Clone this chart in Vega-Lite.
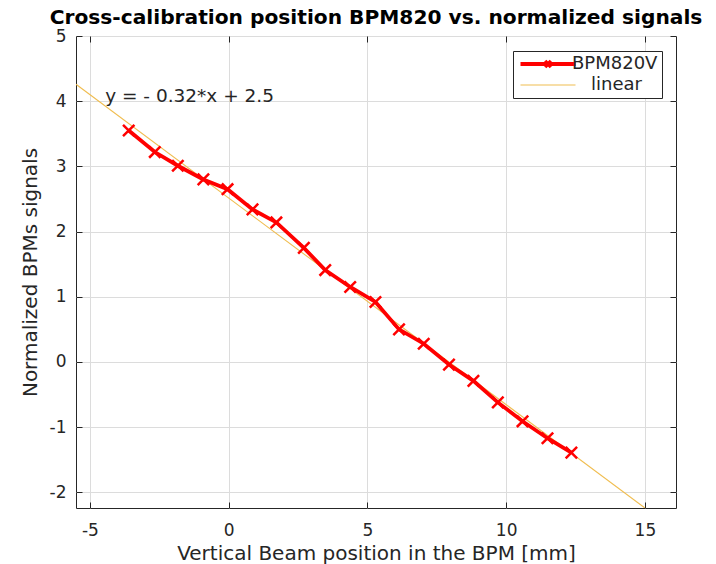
{
  "$schema": "https://vega.github.io/schema/vega-lite/v6.json",
  "width": 600,
  "height": 472,
  "autosize": {"type": "none"},
  "padding": {"left": 76, "top": 36, "right": 40, "bottom": 56},
  "background": "white",
  "config": {
    "font": "DejaVu Sans",
    "view": {"stroke": "#262626", "strokeWidth": 1},
    "axis": {
      "domain": false,
      "gridColor": "#dcdcdc",
      "gridWidth": 1,
      "tickColor": "#262626",
      "tickSize": -6,
      "tickWidth": 1,
      "labelColor": "#262626",
      "labelFontSize": 17,
      "titleColor": "#262626",
      "titleFontSize": 20,
      "titleFontWeight": "normal"
    }
  },
  "title": {
    "text": "Cross-calibration position BPM820 vs. normalized signals",
    "fontSize": 20.2,
    "fontWeight": "bold",
    "color": "#000000",
    "anchor": "middle",
    "offset": -1
  },
  "datasets": {
    "meas": [
      {"x": -3.60, "y": 3.55, "series": "BPM820V"},
      {"x": -2.66, "y": 3.22, "series": "BPM820V"},
      {"x": -1.83, "y": 3.01, "series": "BPM820V"},
      {"x": -0.91, "y": 2.80, "series": "BPM820V"},
      {"x": -0.04, "y": 2.65, "series": "BPM820V"},
      {"x": 0.86, "y": 2.34, "series": "BPM820V"},
      {"x": 1.72, "y": 2.14, "series": "BPM820V"},
      {"x": 2.71, "y": 1.75, "series": "BPM820V"},
      {"x": 3.48, "y": 1.41, "series": "BPM820V"},
      {"x": 4.38, "y": 1.15, "series": "BPM820V"},
      {"x": 5.29, "y": 0.92, "series": "BPM820V"},
      {"x": 6.14, "y": 0.50, "series": "BPM820V"},
      {"x": 7.03, "y": 0.28, "series": "BPM820V"},
      {"x": 7.94, "y": -0.04, "series": "BPM820V"},
      {"x": 8.82, "y": -0.29, "series": "BPM820V"},
      {"x": 9.70, "y": -0.62, "series": "BPM820V"},
      {"x": 10.59, "y": -0.91, "series": "BPM820V"},
      {"x": 11.49, "y": -1.17, "series": "BPM820V"},
      {"x": 12.35, "y": -1.39, "series": "BPM820V"}
    ],
    "fit": [
      {"x": -5.5, "y": 4.26, "series": "linear"},
      {"x": 15.0, "y": -2.24, "series": "linear"}
    ],
    "note": [
      {"x": -4.45, "y": 4.08, "label": "y = - 0.32*x + 2.5"}
    ]
  },
  "layer": [
    {
      "data": {"name": "fit"},
      "mark": {"type": "line", "strokeWidth": 1.1, "clip": true},
      "encoding": {
        "x": {
          "field": "x", "type": "quantitative",
          "scale": {"domain": [-5.5, 16.12], "nice": false, "zero": false},
          "axis": {"orient": "bottom", "values": [-5, 0, 5, 10, 15], "labelExpr": "datum.value + ''", "title": "Vertical Beam position in the BPM [mm]", "titlePadding": 5, "labelPadding": 20}
        },
        "y": {
          "field": "y", "type": "quantitative",
          "scale": {"domain": [-2.24, 5], "nice": false, "zero": false},
          "axis": {"orient": "left", "values": [-2, -1, 0, 1, 2, 3, 4, 5], "labelExpr": "datum.value + ''", "title": "Normalized BPMs signals", "titlePadding": 9, "labelPadding": 16}
        },
        "color": {
          "field": "series", "type": "nominal",
          "scale": {"domain": ["BPM820V", "linear"], "range": ["#ff0000", "#f0bd50"]},
          "legend": {
            "title": null,
            "orient": "none",
            "legendX": 437,
            "legendY": 15,
            "fillColor": "white",
            "strokeColor": "#262626",
            "padding": 4,
            "rowPadding": 1,
            "symbolSize": 3025,
            "symbolOffset": 22,
            "symbolStrokeWidth": 1.1,
            "labelFontSize": 18,
            "labelColor": "#262626",
            "labelOffset": 15,
            "encode": {
              "symbols": {
                "update": {
                  "shape": {"signal": "datum.value == 'BPM820V' ? 'M-1,0L1,0M-0.11,-0.11L0.11,0.11M-0.11,0.11L0.11,-0.11' : 'M-1,0L1,0'"},
                  "strokeWidth": {"signal": "datum.value == 'BPM820V' ? 3.8 : 1.1"}
                }
              },
              "labels": {
                "update": {
                  "dx": {"signal": "datum.value == 'linear' ? 19 : 0"}
                }
              }
            }
          }
        }
      }
    },
    {
      "data": {"name": "meas"},
      "mark": {"type": "line", "strokeWidth": 3.8, "color": "#ff0000"},
      "encoding": {
        "x": {"field": "x", "type": "quantitative", "axis": {"orient": "top", "values": [-5, 0, 5, 10, 15], "labels": false, "title": null, "grid": false}},
        "y": {"field": "y", "type": "quantitative", "axis": {"orient": "right", "values": [-2, -1, 0, 1, 2, 3, 4, 5], "labels": false, "title": null, "grid": false}}
      }
    },
    {
      "data": {"name": "meas"},
      "mark": {"type": "point", "shape": "M-1,-1L1,1M-1,1L1,-1", "filled": false, "size": 130, "strokeWidth": 2.5, "color": "#ff0000", "opacity": 1},
      "encoding": {
        "x": {"field": "x", "type": "quantitative", "axis": null},
        "y": {"field": "y", "type": "quantitative", "axis": null}
      }
    },
    {
      "data": {"name": "note"},
      "mark": {"type": "text", "align": "left", "baseline": "middle", "fontSize": 18.5, "color": "#262626"},
      "encoding": {
        "x": {"field": "x", "type": "quantitative", "axis": null},
        "y": {"field": "y", "type": "quantitative", "axis": null},
        "text": {"field": "label"}
      }
    }
  ]
}
